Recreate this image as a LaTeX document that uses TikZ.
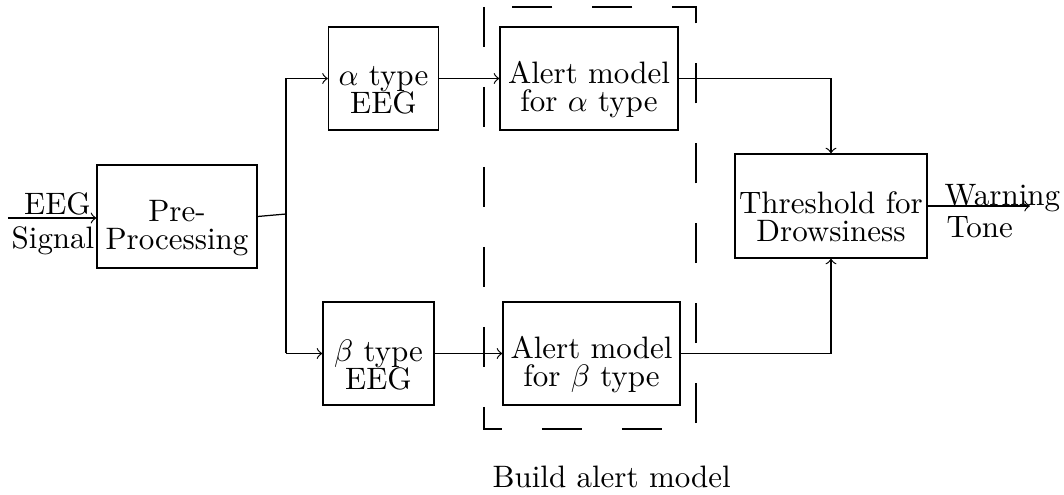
\documentclass[tikz,border=0pt]{standalone}
\begin{document}
\begin{tikzpicture}[x=0.3226pt,y=-0.3226pt,
  font=\fontsize{10}{9.1}\selectfont,
  every path/.style={line width=0.4pt},
  blk/.style={draw,inner sep=0pt},
  lbl/.style={align=center,inner sep=0pt},
  txt/.style={lbl,yshift=-3.7pt},
  grp/.style={draw,dash pattern=on 12.9pt off 12.9pt},
  >=to]
\useasboundingbox (0,0) rectangle (1064,495);

\node[blk,minimum width=160*0.3226pt,minimum height=103*0.3226pt,
  label={[txt,name=preT]center:{Pre-\\Processing}}] (pre) at (177,216.5) {};
\node[blk,minimum width=110*0.3226pt,minimum height=103*0.3226pt,
  label={[txt,name=alphaT]center:{$\alpha$ type\\EEG}}] (alpha) at (383.5,78.5) {};
\node[blk,minimum width=178*0.3226pt,minimum height=103*0.3226pt,
  label={[txt,name=amAT]center:{Alert model\\for $\alpha$ type}}] (amA) at (589,78.5) {};
\node[blk,minimum width=111*0.3226pt,minimum height=103*0.3226pt,
  label={[txt,name=betaT]center:{$\beta$ type\\EEG}}] (beta) at (378.5,353.5) {};
\node[blk,minimum width=177*0.3226pt,minimum height=103*0.3226pt,
  label={[txt,name=amBT]center:{Alert model\\for $\beta$ type}}] (amB) at (591.5,353.5) {};
\node[blk,minimum width=192*0.3226pt,minimum height=104*0.3226pt,
  label={[txt,name=thrT,yshift=0.2pt]center:{Threshold for\\Drowsiness}}] (thr) at (831,206) {};

\coordinate (in) at (8,218);
\coordinate (j) at (286,214);
\coordinate (out) at (1030,206);

\node[lbl,anchor=base] (eeg) at (57.5,214.5) {EEG};
\node[lbl,anchor=base] (sig) at (53,248.5) {Signal};
\node[lbl,anchor=base west] (warn) at (944,205.5) {Warning};
\node[lbl,anchor=base west] (tone) at (946,237.5) {Tone};
\node[inner sep=0pt,anchor=base west] (build) at (492,488) {Build alert model};

\draw[grp] (484,7) -- (484,429) -- (696,429) -- (696,7) -- cycle;

\draw[->] (in) -- (in -| pre.west);
\draw (pre.east) -- (j);
\draw (j |- alpha.west) -- (j |- beta.west);
\draw[->] (j |- alpha.west) -- (alpha.west);
\draw[->] (j |- beta.west) -- (beta.west);
\draw[->] (alpha.east) -- (amA.west);
\draw[->] (beta.east) -- (amB.west);
\draw[->] (amA.east) -- (amA.east -| thr.north) -- (thr.north);
\draw[->] (amB.east) -- (amB.east -| thr.south) -- (thr.south);
\draw[->] (thr.east) -- (out);
\end{tikzpicture}
\end{document}
